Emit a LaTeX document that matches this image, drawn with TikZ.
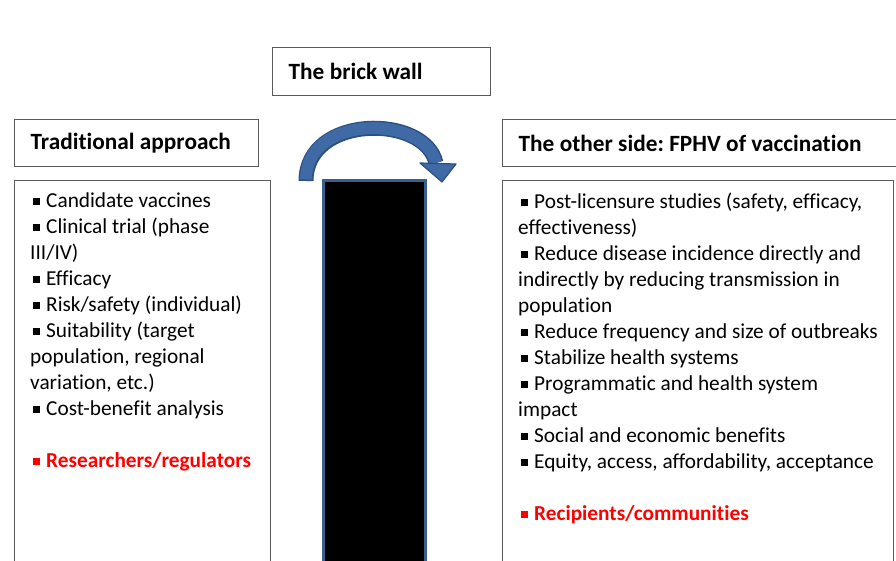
\documentclass[tikz,border=0pt]{standalone}
\usepackage{fontspec}
\setmainfont{Carlito}[Ligatures=NoCommon]
\usetikzlibrary{calc}

\definecolor{framegray}{HTML}{5A5A5A}
\definecolor{arrowfill}{HTML}{3F6AA6}
\definecolor{arrowedge}{HTML}{2C4F80}
\definecolor{pillaredge}{HTML}{3A5E8E}

% square bullet used in the lists
\newcommand{\sqbul}{\hspace*{3pt}\rule[3pt]{6.5pt}{6.5pt}\hspace{6.5pt}}
% slightly narrower word spacing for the bold headings
\newcommand{\tightspace}{\spaceskip=0.23em\relax}

\begin{document}
\frenchspacing
\begin{tikzpicture}[x=1pt,y=-1pt,
  panel/.style={draw=framegray, line width=1.3pt, fill=white},
  header/.style={panel, anchor=north west, align=left, inner xsep=16pt,
    font=\fontsize{23.3}{26}\selectfont\bfseries,
    execute at begin node=\tightspace},
  listtext/.style={anchor=north west, align=left, inner sep=0pt,
    font=\fontsize{21.3}{26}\selectfont}
]
\useasboundingbox (0,0) rectangle (896,561);

% header boxes
\node[header, minimum width=218pt, minimum height=48pt, text width=186pt] (wall) at (272,47) {The brick wall};
\node[header, minimum width=244pt, minimum height=47pt, text width=212pt] (trad) at (14,119) {Traditional approach};
\node[header, minimum width=397pt, minimum height=47pt, text width=365pt] (other) at (502,119) {The other side: FPHV of vaccination};

% content panels (run past the lower edge)
\node[panel, anchor=north west, minimum width=256pt, minimum height=420pt] (lbox) at (14,180) {};
\node[panel, anchor=north west, minimum width=391pt, minimum height=420pt] (rbox) at (502,180) {};

% the wall itself
\node[draw=pillaredge, line width=3pt, fill=black, anchor=north west,
      minimum width=102pt, minimum height=420pt] (pillar) at (322,179) {};

% curved arrow over the wall
\coordinate (arrstart) at (306,181);
\coordinate (arrend) at (436,163);
\draw[arrowedge, line width=15pt] (arrstart) .. controls (306,114) and (425,114) .. (arrend);
\draw[arrowfill, line width=12pt] ($(arrstart)+(0,-1.5)$) .. controls (306,114) and (425,114) .. (arrend);
\filldraw[fill=arrowfill, draw=arrowedge, line width=1.2pt, line join=round]
  (420,163) -- (456,164) -- (442,182) -- cycle;

% list of the traditional approach
\node[listtext] (ltext) at (30,193) {%
\sqbul Candidate vaccines\\
\sqbul Clinical trial (phase\\
III/IV)\\
\sqbul Efficacy\\
\sqbul Risk/safety (individual)\\
\sqbul Suitability (target\\
population, regional\\
variation, etc.)\\
\sqbul Cost-benefit analysis\\[26pt]
{\color{red}\bfseries\sqbul Researchers/regulators}};

% list of the other side
\node[listtext] (rtext) at (518,193) {%
\sqbul Post-licensure studies (safety, efficacy,\\
effectiveness)\\
\sqbul Reduce disease incidence directly and\\
indirectly by reducing transmission in\\
population\\
\sqbul Reduce frequency and size of outbreaks\\
\sqbul Stabilize health systems\\
\sqbul Programmatic and health system\\
impact\\
\sqbul Social and economic benefits\\
\sqbul Equity, access, affordability, acceptance\\[26pt]
{\color{red}\bfseries\sqbul Recipients/communities}};
\end{tikzpicture}
\end{document}
